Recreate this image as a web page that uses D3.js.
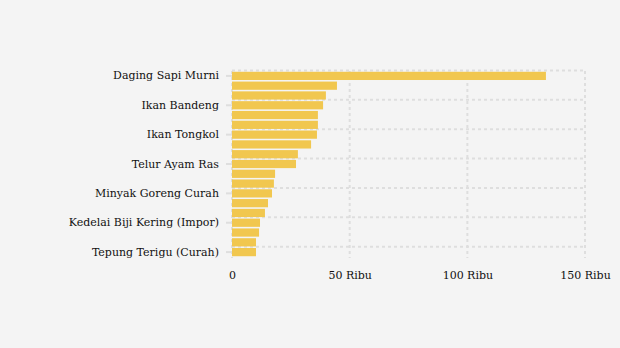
<!DOCTYPE html>
<html><head><meta charset="utf-8">
<script src="https://cdn.jsdelivr.net/npm/d3@7"></script>
<style>
html,body{margin:0;padding:0;background:#f4f4f4;}
svg{display:block;}
</style></head>
<body>
<svg id="c" width="620" height="348"></svg>
<script>
const categories = [
  "Daging Sapi Murni","Cabai Rawit Merah","Cabai Merah Keriting","Ikan Bandeng",
  "Cabai Merah Besar","Daging Ayam Ras","Ikan Tongkol","Bawang Merah",
  "Bawang Putih Bonggol","Telur Ayam Ras","Gula Pasir Lokal","Minyak Goreng Kemasan",
  "Minyak Goreng Curah","Beras Premium","Beras Medium","Kedelai Biji Kering (Impor)",
  "Tepung Terigu (Kemasan)","Jagung Pipilan Kering","Tepung Terigu (Curah)"
];
const values = [133400,44600,39900,38700,36500,36500,36100,33600,28000,27200,
  18300,17800,17000,15300,14000,11900,11500,10200,10200];
const xTicks = [0,50000,100000,150000];
const xTickLabels = ["0","50 Ribu","100 Ribu","150 Ribu"];
const shownLabels = ["Daging Sapi Murni","Ikan Bandeng","Ikan Tongkol","Telur Ayam Ras",
  "Minyak Goreng Curah","Kedelai Biji Kering (Impor)","Tepung Terigu (Curah)"];

const svg = d3.select("#c");
const m = {left:232, right:585, top:71, bottom:257};
const x = d3.scaleLinear().domain([0,150000]).range([m.left,m.right]);
const y = d3.scaleBand().domain(categories).range([m.top,m.bottom]).paddingInner(0.16).paddingOuter(0.08);
const font = "'DejaVu Serif', serif";
const grid = "#dedede";

// vertical grid
svg.append("g").selectAll("line").data(xTicks).join("line")
  .attr("x1",d=>x(d)).attr("x2",d=>x(d)).attr("y1",m.top).attr("y2",m.bottom+1)
  .attr("stroke",grid).attr("stroke-width",2).attr("stroke-dasharray","3,3");
// horizontal grid at top of labeled bands
svg.append("g").selectAll("line").data(shownLabels).join("line")
  .attr("x1",m.left).attr("x2",m.right)
  .attr("y1",d=>y(d)-y.step()*y.paddingInner()/2 - 0.5).attr("y2",d=>y(d)-y.step()*y.paddingInner()/2 - 0.5)
  .attr("stroke",grid).attr("stroke-width",2).attr("stroke-dasharray","3,3");

// bars
svg.append("g").selectAll("rect").data(categories).join("rect")
  .attr("x",x(0)).attr("y",d=>y(d)).attr("height",y.bandwidth())
  .attr("width",(d,i)=>x(values[i])-x(0)).attr("fill","#f1c74f");

// y axis
const yAxis = d3.axisLeft(y).tickValues(shownLabels).tickSize(6).tickPadding(7);
const ga = svg.append("g").attr("transform",`translate(${m.left},0)`).call(yAxis);
ga.select(".domain").remove();
ga.selectAll("line").attr("stroke",grid).attr("stroke-width",2);
ga.selectAll("text").attr("font-family",font).attr("font-size",11).attr("fill","#111");

// x axis
const xAxis = d3.axisBottom(x).tickValues(xTicks).tickFormat((d,i)=>xTickLabels[i]).tickSize(0).tickPadding(14);
const gx = svg.append("g").attr("transform",`translate(0,${m.bottom})`).call(xAxis);
gx.select(".domain").remove();
gx.selectAll("text").attr("font-family",font).attr("font-size",11).attr("fill","#111");
</script>
</body></html>
